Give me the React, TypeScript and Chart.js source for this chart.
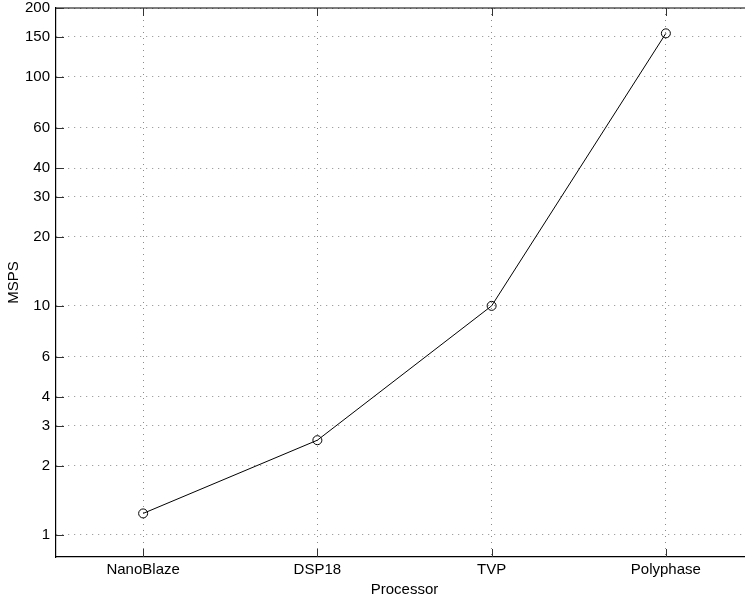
import React, { useEffect, useRef } from "react";
import { Chart, registerables } from "chart.js";

Chart.register(...registerables);

const categories = ["NanoBlaze", "DSP18", "TVP", "Polyphase"];
const msps = [1.24, 2.59, 10, 155];
const yTicks = [1, 2, 3, 4, 6, 10, 20, 30, 40, 60, 100, 150, 200];
const xTitle = "Processor";
const yTitle = "MSPS";

const FONT_FAMILY = "'Liberation Sans', Arial, Helvetica, sans-serif";
const FONT = { family: FONT_FAMILY, size: 15 };

const framePlugin = {
  id: "matlabFrame",
  afterDraw(chart: any) {
    const { ctx, chartArea } = chart;
    const { left, right, top, bottom } = chartArea;
    const xs = chart.scales.x;
    const ys = chart.scales.y;
    const tickLen = 8;
    ctx.save();
    // top frame line
    ctx.strokeStyle = "#000";
    ctx.lineWidth = 1.2;
    ctx.beginPath();
    ctx.moveTo(left, top);
    ctx.lineTo(right, top);
    ctx.stroke();
    // inward tick marks
    ctx.strokeStyle = "#333";
    ctx.lineWidth = 1;
    ctx.beginPath();
    xs.ticks.forEach((t: any) => {
      const px = Math.round(xs.getPixelForValue(t.value)) + 0.5;
      ctx.moveTo(px, bottom);
      ctx.lineTo(px, bottom - tickLen);
      ctx.moveTo(px, top);
      ctx.lineTo(px, top + tickLen);
    });
    ys.ticks.forEach((t: any) => {
      const py = Math.round(ys.getPixelForValue(t.value)) + 0.5;
      ctx.moveTo(left, py);
      ctx.lineTo(left + tickLen, py);
    });
    ctx.stroke();
    ctx.restore();
  },
};

export default function App() {
  const canvasRef = useRef<HTMLCanvasElement | null>(null);

  useEffect(() => {
    const canvas = canvasRef.current;
    if (!canvas) return;
    const chart = new Chart(canvas, {
      type: "line",
      data: {
        datasets: [
          {
            data: msps.map((v, i) => ({ x: i + 1, y: v })),
            borderColor: "#000",
            borderWidth: 1,
            tension: 0,
            fill: false,
            pointStyle: "circle",
            pointRadius: 4.5,
            pointBorderWidth: 1,
            pointBorderColor: "#000",
            pointBackgroundColor: "rgba(0,0,0,0)",
          },
        ],
      },
      options: {
        animation: false,
        responsive: false,
        events: [],
        layout: { padding: { top: 8, right: 7, left: 0, bottom: 0 } },
        plugins: {
          legend: { display: false },
          tooltip: { enabled: false },
        },
        scales: {
          x: {
            type: "linear",
            min: 0.5,
            max: 4.5,
            afterBuildTicks: (s: any) => {
              s.ticks = categories.map((_, i) => ({ value: i + 1 }));
            },
            afterFit: (s: any) => {
              s.height = 42;
              s.paddingLeft = 0;
              s.paddingRight = 0;
            },
            ticks: {
              callback: (v: any) => categories[Math.round(v) - 1] ?? "",
              font: FONT,
              color: "#000",
              padding: 4,
              maxRotation: 0,
              autoSkip: false,
            },
            grid: { color: "#8a8a8a", lineWidth: 1, drawTicks: false },
            border: { display: true, color: "#000", width: 1.2, dash: [1, 5] },
            title: {
              display: true,
              text: xTitle,
              font: FONT,
              color: "#000",
              padding: { top: 0, bottom: 0 },
            },
          },
          y: {
            type: "logarithmic",
            min: 0.8,
            max: 200,
            afterBuildTicks: (s: any) => {
              s.ticks = yTicks.map((v) => ({ value: v }));
            },
            afterFit: (s: any) => {
              s.width = 56;
              s.paddingTop = 0;
              s.paddingBottom = 0;
            },
            ticks: {
              callback: (v: any) => String(v),
              font: FONT,
              color: "#000",
              padding: 6,
              autoSkip: false,
            },
            grid: { color: "#8a8a8a", lineWidth: 1, drawTicks: false },
            border: { display: true, color: "#000", width: 1.2, dash: [1, 5] },
            title: {
              display: true,
              text: yTitle,
              font: FONT,
              color: "#000",
              padding: { top: 5, bottom: 0 },
            },
          },
        },
      } as any,
      plugins: [framePlugin],
    });
    return () => chart.destroy();
  }, []);

  return (
    <div
      style={{
        position: "fixed",
        left: 0,
        top: 0,
        width: 745,
        height: 599,
        overflow: "hidden",
        background: "#fff",
      }}
    >
      <canvas
        ref={canvasRef}
        width={760}
        height={599}
        style={{ width: 760, height: 599, display: "block" }}
      />
    </div>
  );
}
